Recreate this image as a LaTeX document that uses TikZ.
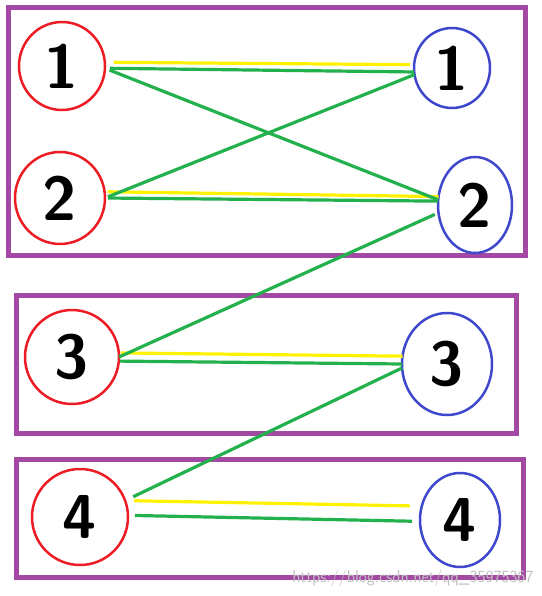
\documentclass[tikz,border=0pt]{standalone}
\usepackage{xcolor}
\usepackage{tikz}
\usetikzlibrary{shapes.geometric}
\definecolor{paintpurple}{RGB}{163,73,164}
\definecolor{paintred}{RGB}{237,28,36}
\definecolor{paintblue}{RGB}{63,72,204}
\definecolor{paintgreen}{RGB}{34,177,76}
\definecolor{paintyellow}{RGB}{255,242,0}

\begin{document}
\begin{tikzpicture}[x=1pt,y=-1pt,
    groupbox/.style={draw=paintpurple, line width=5pt},
    leftnode/.style={ellipse, draw=paintred, line width=2.5pt, inner sep=0pt, outer sep=0pt,
        font=\fontsize{62}{62}\selectfont\sffamily\bfseries},
    rightnode/.style={ellipse, draw=paintblue, line width=2.5pt, inner sep=0pt, outer sep=0pt,
        font=\fontsize{62}{62}\selectfont\sffamily\bfseries},
    match/.style={paintyellow, line width=3.2pt},
    edge/.style={paintgreen, line width=3.2pt}]
    \useasboundingbox (0,0) rectangle (541,596);

    % purple group boxes
    \draw[groupbox] (8,8) rectangle (525,255);
    \draw[groupbox] (16,295) rectangle (516,433);
    \draw[groupbox] (16,459) rectangle (523,577);

    % left side (red)
    \node[leftnode, minimum width=86pt, minimum height=88pt] (a1) at (62,66) {1};
    \node[leftnode, minimum width=90pt, minimum height=92pt] (a2) at (60,198) {2};
    \node[leftnode, minimum width=94pt, minimum height=94pt] (a3) at (72,357) {3};
    \node[leftnode, minimum width=96pt, minimum height=96pt] (a4) at (80,517) {4};

    % right side (blue)
    \node[rightnode, minimum width=76pt, minimum height=80pt] (b1) at (452,68) {1};
    \node[rightnode, minimum width=74pt, minimum height=96pt] (b2) at (475,205) {2};
    \node[rightnode, minimum width=90pt, minimum height=102pt] (b3) at (447,364) {3};
    \node[rightnode, minimum width=80pt, minimum height=94pt] (b4) at (460,520) {4};

    % yellow matching
    \draw[match, shorten <=9pt, shorten >=4pt] (a1.5) -- (b1.175);
    \draw[match, shorten <=3pt] (a2.8) -- (b2.167);
    \draw[match, shorten <=2pt] (a3.5) -- (b3.170);
    \draw[match, shorten <=9pt, shorten >=12pt] (a4.20) -- (b4.160);

    % green edges
    \draw[edge, shorten <=5pt] (a1.357) -- (b1.186);
    \draw[edge, shorten <=5pt] (a1.357) -- (b2.172);
    \draw[edge, shorten <=3pt] (a2.0) -- (b1.190);
    \draw[edge, shorten <=3pt] (a2.0) -- (b2.174);
    \draw[edge, shorten <=4pt] (b2.192) -- (a3.0);
    \draw[edge, shorten <=1pt] (a3.355) -- (b3.180);
    \draw[edge, shorten >=9pt] (b3.185) -- (a4.20);
    \draw[edge, shorten <=7pt, shorten >=8pt] (a4.2) -- (b4.182);

    % watermark
    \node[anchor=east, text=black!25, font=\fontsize{17}{17}\selectfont\sffamily]
        (mark) at (537,578) {https://blog.csdn.net/qq\_35975367};
\end{tikzpicture}
\end{document}
